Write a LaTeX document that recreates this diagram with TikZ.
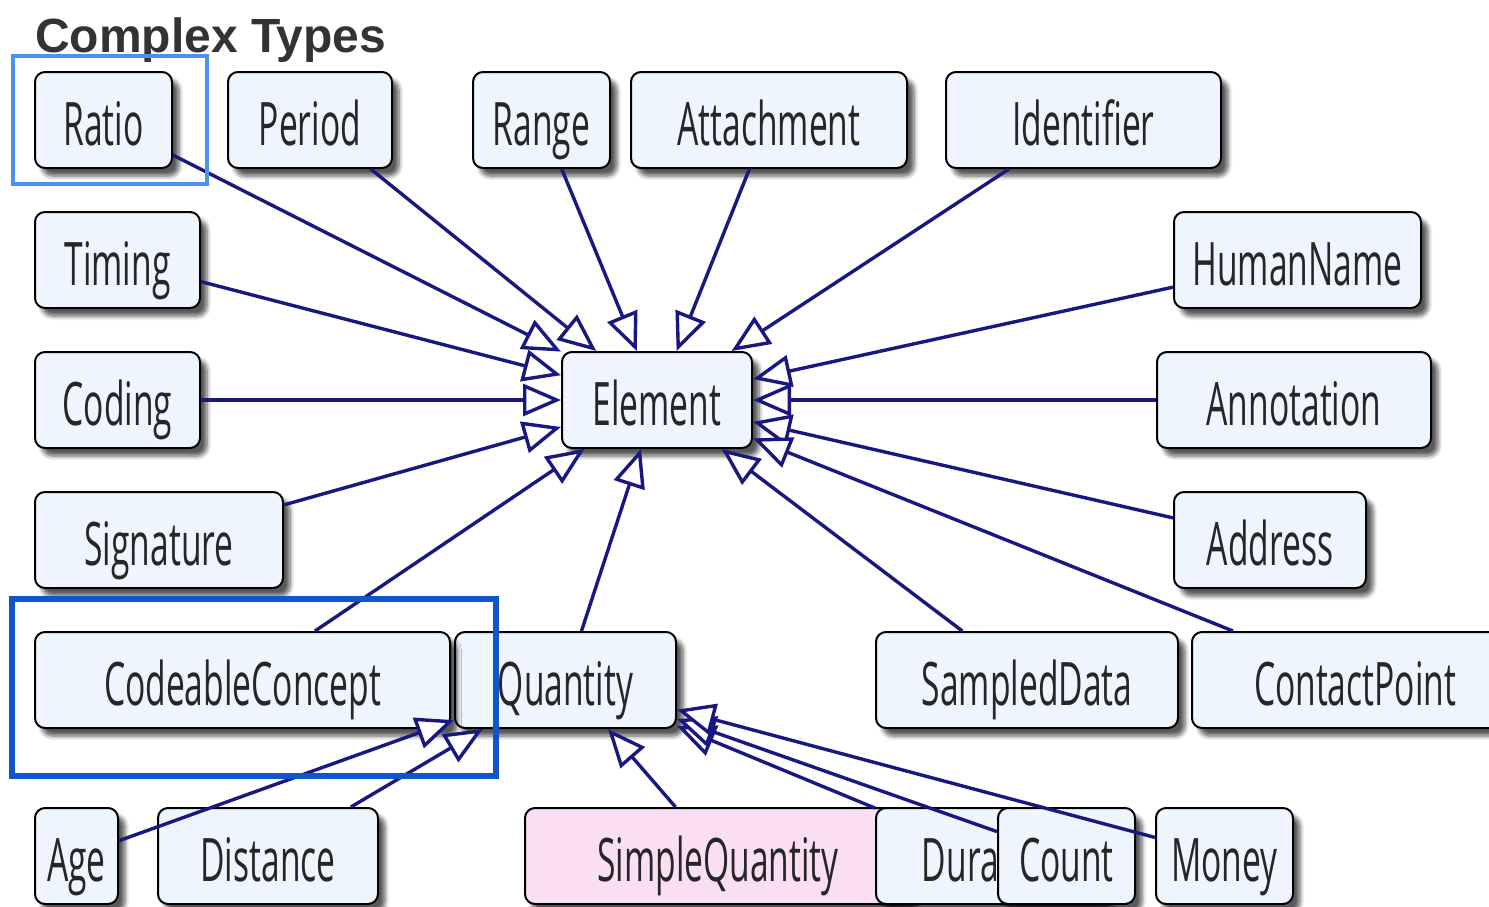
\documentclass[tikz,border=0pt]{standalone}
\usepackage{fontspec}
\setmainfont{Open Sans}[FakeStretch=0.56]
\newfontfamily\titlefont{Liberation Sans}
\usetikzlibrary{arrows.meta,shadows.blur}

\definecolor{typefill}{RGB}{238,245,253}
\definecolor{profilefill}{RGB}{250,222,244}
\definecolor{inhline}{RGB}{24,24,128}
\definecolor{titlegray}{RGB}{51,51,51}
\definecolor{marklight}{RGB}{77,144,240}
\definecolor{markdark}{RGB}{17,85,204}

\begin{document}
\begin{tikzpicture}[
    x=0.5pt, y=-0.5pt,
    cls/.style={rectangle, draw=black, line width=1pt, rounded corners=5pt, fill=typefill,
        minimum height=48pt, inner sep=0pt, text height=25.5pt, text depth=0pt, text=black!85,
        font=\fontsize{30}{36}\selectfont,
        blur shadow={shadow xshift=3.5pt, shadow yshift=-4pt, shadow blur steps=6, shadow opacity=65}},
    inh/.style={draw=inhline, line width=1.7pt, -{Triangle[length=19pt, width=16pt, fill=white]}},
    hilite/.style={line width=2.2pt}
]
\useasboundingbox (0,0) rectangle (1489,906);

% title
\node[anchor=base west, font=\titlefont\bfseries\fontsize{24}{28}\selectfont, text=titlegray] (title) at (28,52) {Complex Types};

% top row
\node[cls, minimum width=68.5pt] (ratio) at (103.5,120) {Ratio};
\node[cls, minimum width=82pt] (period) at (310,120) {Period};
\node[cls, minimum width=68.5pt] (range) at (541.5,120) {Range};
\node[cls, minimum width=138pt] (attach) at (769,120) {Attachment};
\node[cls, minimum width=137.5pt] (ident) at (1083.5,120) {Identifier};

% left and right columns
\node[cls, minimum width=82.5pt] (timing) at (117.5,260) {Timing};
\node[cls, minimum width=123.5pt] (human) at (1297.5,260) {HumanName};
\node[cls, minimum width=82.5pt] (coding) at (117.5,400) {Coding};
\node[cls, minimum width=137pt] (annot) at (1294,400) {Annotation};
\node[cls, minimum width=124pt] (sig) at (159,540) {Signature};
\node[cls, minimum width=96pt] (address) at (1270,540) {Address};

% the base type
\node[cls, minimum width=95pt] (element) at (657,400) {Element};

% fourth row
\node[cls, minimum width=110.5pt] (qty) at (565.5,680) {Quantity};
\node[cls, minimum width=207.5pt] (cc) at (242.5,680) {CodeableConcept};
\node[cls, minimum width=151pt] (sampled) at (1027,680) {SampledData};
\node[cls, minimum width=163pt] (contact) at (1355,680) {ContactPoint};

% quantity profiles
\node[cls, minimum width=41.5pt] (age) at (76.5,856) {Age};
\node[cls, minimum width=110pt] (dist) at (268,856) {Distance};
\node[cls, fill=profilefill, minimum width=193pt] (simpleq) at (718,856) {SimpleQuantity};
\node[cls, minimum width=115pt] (duration) at (991,856) {Duration};
\node[cls, minimum width=68.5pt] (count) at (1066.5,856) {Count};
\node[cls, minimum width=68.5pt] (money) at (1224.5,856) {Money};

% generalisations
\foreach \src in {ratio,period,range,attach,ident,timing,human,coding,annot,sig,address,cc,qty,sampled,contact}
    \draw[inh] (\src) -- (element);
\foreach \src in {age,dist,simpleq,duration,count,money}
    \draw[inh] (\src) -- (qty);

% marked boxes
\draw[hilite, draw=marklight] (13,56) rectangle (207,184);
\draw[hilite, draw=markdark, line width=2.6pt] (12,599) rectangle (496,776);

\end{tikzpicture}
\end{document}
